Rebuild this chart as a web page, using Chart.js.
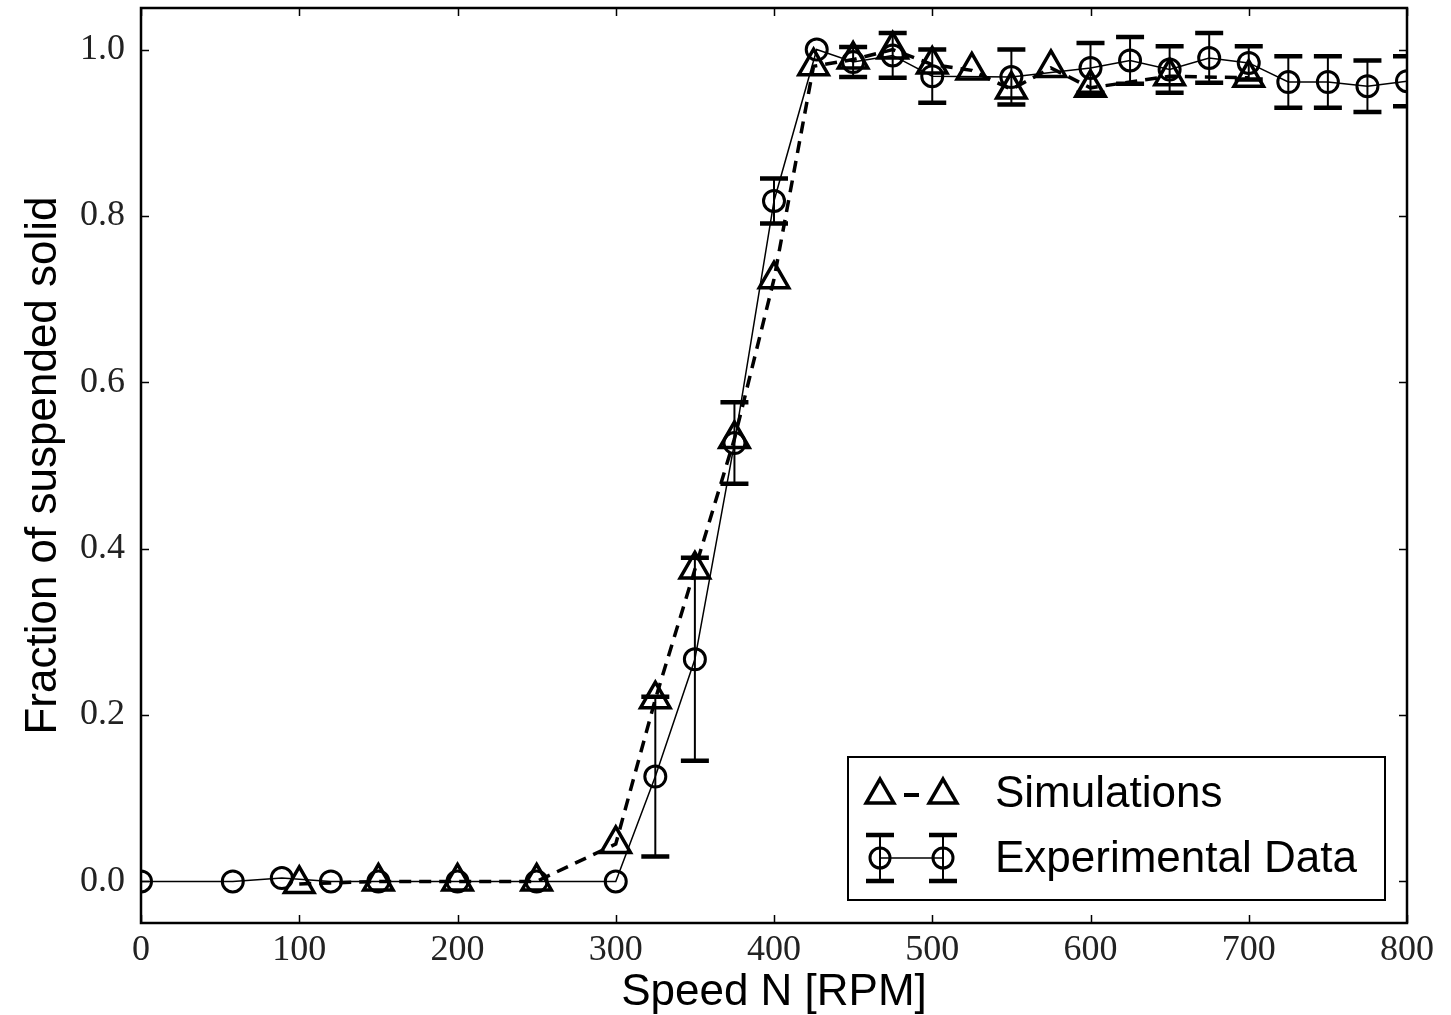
<!DOCTYPE html>
<html>
<head>
<meta charset="utf-8">
<script src="https://cdn.jsdelivr.net/npm/chart.js@4.4.1/dist/chart.umd.min.js"></script>
<style>
  html, body { margin: 0; padding: 0; background: #fff; }
  #wrap { width: 1451px; height: 1015px; }
</style>
</head>
<body>
<div id="wrap"><canvas id="suspChart" width="1451" height="1015"></canvas></div>
<script>
// Experimental data (circles, solid line, with error bars)
const expRpm = [0, 58, 89, 120, 150, 200, 250, 300, 325, 350, 375, 400, 427, 450, 475, 500, 550, 600, 625, 650, 675, 700, 725, 750, 775, 800];
const expFrac = [0, 0, 0.004, 0, 0, 0, 0, 0, 0.126, 0.267, 0.527, 0.818, 1.0, 0.985, 0.993, 0.968, 0.967, 0.978, 0.987, 0.976, 0.99, 0.984, 0.961, 0.961, 0.956, 0.962];
const expErr = [0, 0, 0, 0, 0, 0, 0, 0, 0.096, 0.122, 0.049, 0.027, 0, 0.018, 0.027, 0.032, 0.033, 0.03, 0.028, 0.028, 0.03, 0.02, 0.031, 0.031, 0.031, 0.03];

// Simulations (triangles, dashed line)
const simRpm = [100, 150, 200, 250, 300, 325, 350, 375, 400, 425, 450, 475, 500, 525, 550, 575, 600, 650, 700];
const simFrac = [-0.003, 0, 0, 0, 0.045, 0.219, 0.375, 0.532, 0.724, 0.98, 0.988, 1.0, 0.982, 0.975, 0.952, 0.978, 0.954, 0.968, 0.966];

// Axis ticks
const xTicks = [0, 100, 200, 300, 400, 500, 600, 700, 800];
const yTicks = [0, 0.2, 0.4, 0.6, 0.8, 1.0];

const serif = '"Liberation Serif", "DejaVu Serif", serif';
const sans = '"Liberation Sans", Arial, sans-serif';

function drawTriangle(ctx, cx, cy, r) {
  ctx.beginPath();
  ctx.moveTo(cx, cy - r);
  ctx.lineTo(cx + r * 0.866, cy + r * 0.5);
  ctx.lineTo(cx - r * 0.866, cy + r * 0.5);
  ctx.closePath();
  ctx.stroke();
}

// error bars, frame, inward ticks and legend
const extras = {
  id: 'extras',
  afterDatasetsDraw(chart) {
    const ctx = chart.ctx, x = chart.scales.x, y = chart.scales.y, a = chart.chartArea;
    ctx.save();
    ctx.beginPath();
    ctx.rect(a.left, a.top, a.right - a.left, a.bottom - a.top);
    ctx.clip();
    ctx.strokeStyle = '#000';
    expRpm.forEach((r, i) => {
      if (!expErr[i]) return;
      const px = x.getPixelForValue(r);
      const top = y.getPixelForValue(expFrac[i] + expErr[i]);
      const bot = y.getPixelForValue(expFrac[i] - expErr[i]);
      ctx.lineWidth = 2;
      ctx.beginPath(); ctx.moveTo(px, top); ctx.lineTo(px, bot); ctx.stroke();
      ctx.lineWidth = 4.5;
      ctx.beginPath();
      ctx.moveTo(px - 14, top); ctx.lineTo(px + 14, top);
      ctx.moveTo(px - 14, bot); ctx.lineTo(px + 14, bot);
      ctx.stroke();
    });
    ctx.restore();
  },
  afterDraw(chart) {
    const ctx = chart.ctx, x = chart.scales.x, y = chart.scales.y, a = chart.chartArea;
    ctx.save();
    ctx.strokeStyle = '#000';
    ctx.lineWidth = 1.5;
    xTicks.forEach(v => {
      const px = Math.round(x.getPixelForValue(v)) + 0.5;
      ctx.beginPath();
      ctx.moveTo(px, a.bottom); ctx.lineTo(px, a.bottom - 8);
      ctx.moveTo(px, a.top); ctx.lineTo(px, a.top + 8);
      ctx.stroke();
    });
    yTicks.forEach(v => {
      const py = Math.round(y.getPixelForValue(v)) + 0.5;
      ctx.beginPath();
      ctx.moveTo(a.left, py); ctx.lineTo(a.left + 8, py);
      ctx.moveTo(a.right, py); ctx.lineTo(a.right - 8, py);
      ctx.stroke();
    });
    ctx.lineWidth = 2.5;
    ctx.strokeRect(a.left, a.top, a.right - a.left, a.bottom - a.top);

    // legend box
    const bx = a.right - 559, by = a.bottom - 166, bw = 537, bh = 143;
    ctx.fillStyle = '#fff';
    ctx.fillRect(bx, by, bw, bh);
    ctx.lineWidth = 2;
    ctx.strokeRect(bx, by, bw, bh);
    const m1 = bx + 32, m2 = bx + 95, r1 = by + 36, r2 = by + 101;
    // simulations row: one dash between the two markers
    ctx.lineWidth = 4;
    ctx.beginPath(); ctx.moveTo(m1 + 24, r1 + 2); ctx.lineTo(m2 - 24, r1 + 2); ctx.stroke();
    ctx.lineWidth = 3.5;
    [m1, m2].forEach(cx => drawTriangle(ctx, cx, r1 + 2, 16));
    // experimental row
    ctx.lineWidth = 1.5;
    ctx.beginPath(); ctx.moveTo(m1, r2); ctx.lineTo(m2, r2); ctx.stroke();
    [m1, m2].forEach(cx => {
      ctx.lineWidth = 2;
      ctx.beginPath(); ctx.moveTo(cx, r2 - 23); ctx.lineTo(cx, r2 + 23); ctx.stroke();
      ctx.lineWidth = 4.5;
      ctx.beginPath();
      ctx.moveTo(cx - 14, r2 - 23); ctx.lineTo(cx + 14, r2 - 23);
      ctx.moveTo(cx - 14, r2 + 23); ctx.lineTo(cx + 14, r2 + 23);
      ctx.stroke();
      ctx.lineWidth = 3;
      ctx.beginPath(); ctx.arc(cx, r2, 10, 0, Math.PI * 2); ctx.stroke();
    });
    ctx.fillStyle = '#000';
    ctx.font = '44px ' + sans;
    ctx.textBaseline = 'middle';
    ctx.fillText('Simulations', bx + 147, r1 + 2);
    ctx.fillText('Experimental Data', bx + 147, r2 + 2);
    ctx.restore();
  }
};

document.addEventListener('DOMContentLoaded', function () {
  const ctx = document.getElementById('suspChart').getContext('2d');
  new Chart(ctx, {
    type: 'scatter',
    data: {
      datasets: [
        {
          label: 'Simulations',
          data: simRpm.map((r, i) => ({ x: r, y: simFrac[i] })),
          showLine: true,
          borderColor: '#000',
          borderWidth: 3.5,
          borderDash: [12, 8],
          tension: 0,
          pointStyle: 'triangle',
          pointRadius: 17,
          pointBorderWidth: 3.5,
          pointBorderColor: '#000',
          pointBackgroundColor: 'rgba(0,0,0,0)'
        },
        {
          label: 'Experimental Data',
          data: expRpm.map((r, i) => ({ x: r, y: expFrac[i] })),
          showLine: true,
          borderColor: '#000',
          borderWidth: 1.5,
          tension: 0,
          pointStyle: 'circle',
          pointRadius: 10.5,
          pointBorderWidth: 3,
          pointBorderColor: '#000',
          pointBackgroundColor: 'rgba(0,0,0,0)'
        }
      ]
    },
    options: {
      responsive: false,
      animation: false,
      layout: { autoPadding: false, padding: { top: 8, right: 44, left: 0, bottom: 0 } },
      plugins: {
        legend: { display: false },
        tooltip: { enabled: false }
      },
      scales: {
        x: {
          type: 'linear',
          min: 0,
          max: 800,
          afterBuildTicks: s => { s.ticks = xTicks.map(v => ({ value: v })); },
          afterFit: s => { s.height = 92; s.paddingLeft = 0; s.paddingRight = 0; },
          grid: { display: false, drawTicks: false },
          border: { display: false },
          ticks: {
            color: '#222',
            font: { family: serif, size: 36 },
            padding: 6,
            maxRotation: 0,
            callback: v => String(v)
          },
          title: {
            display: true,
            text: 'Speed N [RPM]',
            color: '#000',
            font: { family: sans, size: 44, lineHeight: 1.0 },
            padding: { top: 0, bottom: 0 }
          }
        },
        y: {
          type: 'linear',
          min: -0.05,
          max: 1.05,
          afterBuildTicks: s => { s.ticks = yTicks.map(v => ({ value: v })); },
          afterFit: s => { s.width = 141; s.paddingTop = 0; s.paddingBottom = 0; },
          grid: { display: false, drawTicks: false },
          border: { display: false },
          ticks: {
            color: '#222',
            font: { family: serif, size: 36 },
            padding: 16,
            callback: v => v.toFixed(1)
          },
          title: {
            display: true,
            text: 'Fraction of suspended solid',
            color: '#000',
            font: { family: sans, size: 44, lineHeight: 1.0 },
            padding: { top: 22, bottom: 0 }
          }
        }
      }
    },
    plugins: [extras]
  });
});
</script>
</body>
</html>
